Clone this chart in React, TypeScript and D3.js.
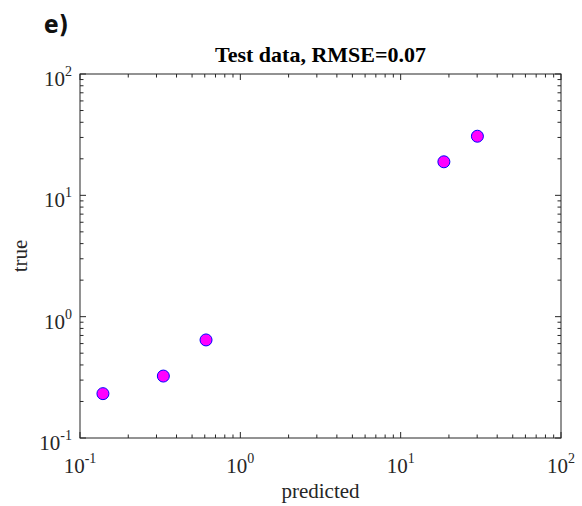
import React from "react";
import * as d3 from "d3";

const predicted = [0.139, 0.331, 0.611, 18.6, 30.1];
const trueVals = [0.232, 0.324, 0.643, 18.9, 30.7];
const decadeExponents = [-1, 0, 1, 2];
const title = "Test data, RMSE=0.07";
const panelLabel = "e)";
const xLabel = "predicted";
const yLabel = "true";

const W = 582;
const H = 506;
const M = { left: 80, right: 21, top: 74, bottom: 68 };

export default function App() {
  const x = d3.scaleLog().domain([0.1, 100]).range([M.left, W - M.right]);
  const y = d3.scaleLog().domain([0.1, 100]).range([H - M.bottom, M.top]);
  const x0 = M.left, x1 = W - M.right, y0 = H - M.bottom, y1 = M.top;
  const major = decadeExponents.map((e) => Math.pow(10, e));
  const minor: number[] = [];
  for (let e = -1; e < 2; e++) for (let k = 2; k <= 9; k++) minor.push(k * Math.pow(10, e));
  const axisColor = "#262626";
  const majLen = 6, minLen = 3.5;
  const serif = "'Liberation Serif', 'Times New Roman', serif";

  return (
    <svg width={W} height={H} style={{ position: "absolute", left: 0, top: 0, background: "#fff" }}>
      <rect x={0} y={0} width={W} height={H} fill="#fff" />
      <text x={44} y={33} fontFamily="'DejaVu Sans Condensed', 'DejaVu Sans', sans-serif" fontStretch="condensed" fontWeight="bold" fontSize={24} fill="#111">{panelLabel}</text>
      <text x={(x0 + x1) / 2} y={62} textAnchor="middle" fontFamily={serif} fontWeight="bold" fontSize={22} fill="#000">{title}</text>
      <g stroke={axisColor} strokeWidth={1} fill="none">
        <rect x={x0} y={y1} width={x1 - x0} height={y0 - y1} />
        {major.map((v) => (
          <g key={"M" + v}>
            <line x1={x(v)} x2={x(v)} y1={y0} y2={y0 - majLen} />
            <line x1={x(v)} x2={x(v)} y1={y1} y2={y1 + majLen} />
            <line x1={x0} x2={x0 + majLen} y1={y(v)} y2={y(v)} />
            <line x1={x1} x2={x1 - majLen} y1={y(v)} y2={y(v)} />
          </g>
        ))}
        {minor.map((v) => (
          <g key={"m" + v}>
            <line x1={x(v)} x2={x(v)} y1={y0} y2={y0 - minLen} />
            <line x1={x(v)} x2={x(v)} y1={y1} y2={y1 + minLen} />
            <line x1={x0} x2={x0 + minLen} y1={y(v)} y2={y(v)} />
            <line x1={x1} x2={x1 - minLen} y1={y(v)} y2={y(v)} />
          </g>
        ))}
      </g>
      {decadeExponents.map((e) => (
        <text key={"xl" + e} x={x(Math.pow(10, e))} y={y0 + 35} textAnchor="middle" fontFamily={serif} fontSize={21} fill="#262626">
          <tspan>10</tspan>
          <tspan fontSize={14} dy={-10}>{e}</tspan>
        </text>
      ))}
      {decadeExponents.map((e) => (
        <text key={"yl" + e} x={x0 - 8} y={y(Math.pow(10, e)) + 12} textAnchor="end" fontFamily={serif} fontSize={21} fill="#262626">
          <tspan>10</tspan>
          <tspan fontSize={14} dy={-10}>{e}</tspan>
        </text>
      ))}
      <text x={(x0 + x1) / 2} y={498} textAnchor="middle" fontFamily={serif} fontSize={21} fill="#262626">{xLabel}</text>
      <text transform={`translate(27, ${(y0 + y1) / 2}) rotate(-90)`} textAnchor="middle" fontFamily={serif} fontSize={21} fill="#262626">{yLabel}</text>
      {predicted.map((p, i) => (
        <circle key={i} cx={x(p)} cy={y(trueVals[i])} r={6} fill="#ff00ff" stroke="#0000ff" strokeWidth={1} />
      ))}
    </svg>
  );
}
